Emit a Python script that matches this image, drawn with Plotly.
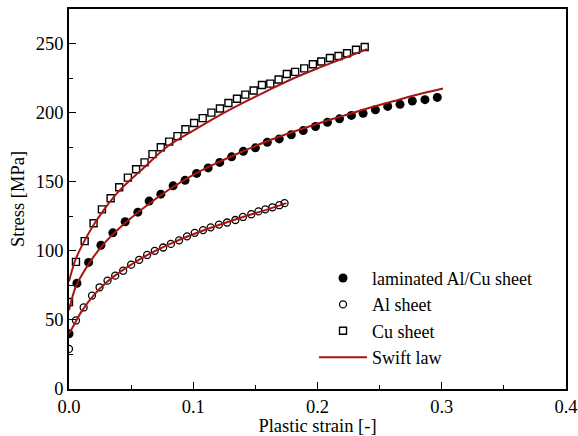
import plotly.graph_objects as go

# ---- data ----
lam_x = [0.0, 0.0064, 0.0158, 0.0257, 0.0353, 0.0452, 0.0554, 0.0645, 0.0739, 0.0838, 0.0934,
         0.1027, 0.112, 0.1213, 0.1309, 0.1403, 0.15, 0.1596, 0.1692, 0.1789, 0.1885, 0.1984,
         0.208, 0.2177, 0.2273, 0.2367, 0.2466, 0.2565, 0.2664, 0.2763, 0.2865, 0.2964]
lam_y = [40, 76.5, 91.6, 104, 113, 121, 128, 136, 141, 147, 151,
         156, 160, 164, 168, 172, 174.5, 178.6, 181, 184, 187, 190,
         193, 195.5, 198, 199.5, 202, 204.5, 206, 208.4, 209.4, 211]

al_x = [0.0, 0.0056, 0.0118, 0.0185, 0.0246, 0.031, 0.0372, 0.0436, 0.05, 0.0565, 0.0629,
        0.069, 0.0758, 0.082, 0.0886, 0.095, 0.1012, 0.1079, 0.114, 0.1207, 0.1272, 0.1339,
        0.14, 0.1467, 0.1525, 0.158, 0.1637, 0.1693, 0.1735]
al_y = [29, 49.6, 59, 67.6, 73.6, 78.4, 82, 85.6, 90, 93.5, 97,
        100, 102.4, 105, 107.6, 110.5, 113, 115, 117, 119, 120.5, 122.3,
        124.5, 126.5, 128.5, 130, 131.5, 133, 134.5]

cu_x = [0.0, 0.0056, 0.0126, 0.0198, 0.0265, 0.0335, 0.0404, 0.0474, 0.054, 0.0608, 0.0672,
        0.0739, 0.0806, 0.0873, 0.0937, 0.1007, 0.1076, 0.1146, 0.1215, 0.1283, 0.1352,
        0.1419, 0.1486, 0.1553, 0.162, 0.1687, 0.1753, 0.182, 0.1893, 0.1963, 0.203,
        0.21, 0.2169, 0.2238, 0.231, 0.238]
cu_y = [63, 92, 107, 120, 130, 138, 146, 153, 159, 164, 170,
        175, 179, 183, 188, 192.5, 196, 200, 203, 207, 210,
        213, 216, 220, 221, 224, 228, 229.5, 232, 235, 237,
        239.5, 241, 243, 245.5, 247.5]

# Swift law fitted curves
fit_lam_x = [0, 0.005, 0.01, 0.02, 0.03, 0.04, 0.06, 0.08, 0.1, 0.12, 0.14, 0.16, 0.18, 0.2,
             0.22, 0.24, 0.26, 0.28, 0.301]
fit_lam_y = [57, 73, 82, 96, 107, 116, 131, 144, 155, 164, 172, 179.5, 186, 192,
             197.5, 203, 208, 213, 217.5]
fit_al_x = [0, 0.005, 0.01, 0.02, 0.03, 0.04, 0.05, 0.06, 0.08, 0.1, 0.12, 0.14, 0.16, 0.175]
fit_al_y = [40, 48, 56, 68, 77, 84, 90, 95.5, 104.5, 112, 118.5, 124.5, 130, 134.5]
fit_cu_x = [0, 0.005, 0.01, 0.02, 0.03, 0.04, 0.06, 0.08, 0.1, 0.12, 0.14, 0.16, 0.18, 0.2,
            0.22, 0.24]
fit_cu_y = [78, 93, 103, 119, 132, 143, 160, 176, 187, 197.5, 207, 216, 224.5, 232,
            239, 246]

x_ticks = [0.0, 0.1, 0.2, 0.3, 0.4]
y_ticks = [0, 50, 100, 150, 200, 250]

FONT = "Liberation Serif"
RED = "#a51515"
FS = 18.5

fig = go.Figure()
fig.add_trace(go.Scatter(x=lam_x, y=lam_y, mode="markers", name="laminated Al/Cu sheet",
                         marker=dict(symbol="circle", size=9, color="black",
                                     line=dict(width=0))))
fig.add_trace(go.Scatter(x=al_x, y=al_y, mode="markers", name="Al sheet",
                         marker=dict(symbol="circle-open", size=7, color="black",
                                     line=dict(width=1.3))))
fig.add_trace(go.Scatter(x=cu_x, y=cu_y, mode="markers", name="Cu sheet",
                         marker=dict(symbol="square-open", size=7, color="black",
                                     line=dict(width=1.4))))
fig.add_trace(go.Scatter(x=fit_lam_x, y=fit_lam_y, mode="lines", name="Swift law",
                         line=dict(color=RED, width=2, shape="spline")))
fig.add_trace(go.Scatter(x=fit_al_x, y=fit_al_y, mode="lines", showlegend=False,
                         line=dict(color=RED, width=2, shape="spline")))
fig.add_trace(go.Scatter(x=fit_cu_x, y=fit_cu_y, mode="lines", showlegend=False,
                         line=dict(color=RED, width=2, shape="spline")))

axis_common = dict(showline=True, linecolor="black", linewidth=1.6, mirror=True,
                   ticks="inside", ticklen=7, tickwidth=1.2, tickcolor="black",
                   showgrid=False, zeroline=False, automargin=False,
                   tickfont=dict(family=FONT, size=FS, color="black"))

fig.update_xaxes(range=[0, 0.4], tickvals=x_ticks, ticktext=[f"{v:.1f}" for v in x_ticks],
                 title=dict(text="Plastic strain [-]", font=dict(family=FONT, size=FS, color="black"),
                            standoff=2),
                 minor=dict(ticks="inside", ticklen=4, dtick=0.05, tickcolor="black", tickwidth=1.2),
                 **axis_common)
fig.update_yaxes(range=[0, 275], tickvals=y_ticks, ticktext=[str(v) for v in y_ticks],
                 title=dict(text="Stress [MPa]", font=dict(family=FONT, size=FS, color="black"),
                            standoff=6),
                 minor=dict(ticks="inside", ticklen=4, dtick=25, tickcolor="black", tickwidth=1.2),
                 **axis_common)

fig.update_layout(
    width=578, height=436,
    margin=dict(l=69, r=12, t=9, b=47),
    paper_bgcolor="white", plot_bgcolor="white",
    font=dict(family=FONT, size=FS, color="black"),
    legend=dict(x=0.493, y=0.34, xanchor="left", yanchor="top",
                bgcolor="rgba(0,0,0,0)", borderwidth=0,
                font=dict(family=FONT, size=18, color="black"),
                tracegroupgap=0, itemwidth=48),
    showlegend=True,
)

fig.write_html("out.html")
